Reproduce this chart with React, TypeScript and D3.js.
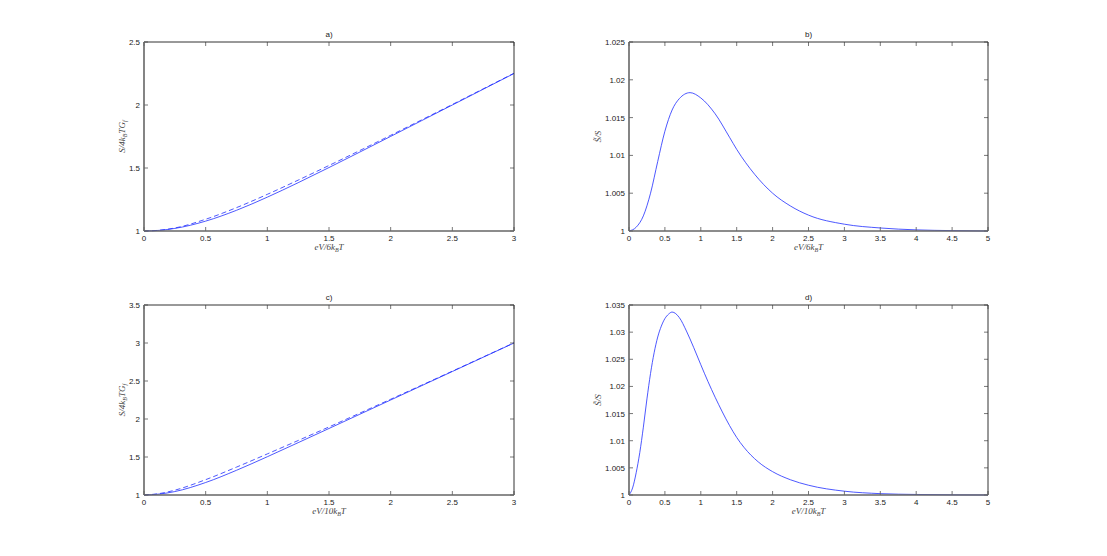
import React from "react";
import * as d3 from "d3";

// ---------- data ----------
const xLeft = [0, 0.125, 0.25, 0.5, 0.75, 1, 1.25, 1.5, 1.75, 2, 2.25, 2.5, 2.75, 3];
const aSolid = [1, 1.0052, 1.0205, 1.0783, 1.1643, 1.2687, 1.3834, 1.5037, 1.6266, 1.7507, 1.8753, 2.0, 2.125, 2.25];
const aDashed = [1, 1.0061, 1.0238, 1.0932, 1.1854, 1.291, 1.4037, 1.52, 1.6388, 1.7595, 1.8815, 2.0042, 2.128, 2.252];
const cSolid = [1, 1.0125, 1.0452, 1.1643, 1.3252, 1.5037, 1.6886, 1.8753, 2.0626, 2.25, 2.4375, 2.625, 2.8125, 3.0];
const cDashed = [1, 1.0189, 1.0635, 1.2018, 1.3668, 1.5408, 1.7171, 1.8957, 2.0775, 2.2601, 2.4443, 2.6295, 2.8156, 3.0021];

const bX = [0, 0.1, 0.2, 0.3, 0.4, 0.5, 0.6, 0.7, 0.85, 1.0, 1.2, 1.4, 1.5, 1.75, 2.0, 2.25, 2.5, 3.0, 3.5, 4.0, 4.5, 5];
const bY = [1, 1.0005, 1.002, 1.005, 1.0092, 1.0132, 1.016, 1.0175, 1.0183, 1.0176, 1.0155, 1.0124, 1.0108, 1.0075, 1.005, 1.0033, 1.0021, 1.0009, 1.0004, 1.00015, 1.00005, 1.0];

const dX = [0, 0.05, 0.1, 0.15, 0.2, 0.25, 0.3, 0.35, 0.4, 0.45, 0.5, 0.55, 0.6, 0.7, 0.8, 0.9, 1.0, 1.1, 1.2, 1.3, 1.4, 1.5, 1.6, 1.8, 2.0, 2.25, 2.5, 3.0, 3.5, 4.0, 4.5, 5.0];
const dY = [1, 1.0013, 1.0041, 1.0078, 1.0125, 1.0177, 1.0224, 1.0262, 1.0291, 1.0311, 1.0325, 1.0333, 1.0337, 1.0327, 1.0302, 1.0272, 1.024, 1.0209, 1.018, 1.0153, 1.0128, 1.0106, 1.0088, 1.0061, 1.0043, 1.0028, 1.0018, 1.0007, 1.00025, 1.0001, 1.00003, 1.0];

const xTicksLeft = [0, 0.5, 1, 1.5, 2, 2.5, 3];
const xTicksRight = [0, 0.5, 1, 1.5, 2, 2.5, 3, 3.5, 4, 4.5, 5];
const yTicksA = [1, 1.5, 2, 2.5];
const yTicksC = [1, 1.5, 2, 2.5, 3, 3.5];
const yTicksB = [1, 1.005, 1.01, 1.015, 1.02, 1.025];
const yTicksD = [1, 1.005, 1.01, 1.015, 1.02, 1.025, 1.03, 1.035];

const BLUE = "#1f2dff";
const SANS = "'Liberation Sans', Arial, Helvetica, sans-serif";
const SERIF = "'Liberation Serif', 'DejaVu Serif', serif";

type Series = { x: number[]; y: number[]; dashed?: boolean };

type PanelProps = {
  left: number;
  right: number;
  top: number;
  bottom: number;
  xDomain: [number, number];
  yDomain: [number, number];
  xTicks: number[];
  yTicks: number[];
  title: string;
  xLabel: React.ReactNode;
  yLabel: React.ReactNode;
  yLabelX: number;
  series: Series[];
};

const fmt = (v: number) => String(+v.toFixed(3));

function Panel(p: PanelProps) {
  const x = d3.scaleLinear().domain(p.xDomain).range([p.left, p.right]);
  const y = d3.scaleLinear().domain(p.yDomain).range([p.bottom, p.top]);
  const tl = 4;
  const line = (s: Series) =>
    d3
      .line<number>()
      .x((_, i) => x(s.x[i]))
      .y((v) => y(v))
      .curve(d3.curveMonotoneX)(s.y) || "";
  const midY = (p.top + p.bottom) / 2;
  return (
    <g>
      <text x={(p.left + p.right) / 2} y={p.top - 5} fontSize={8} fontFamily={SANS} textAnchor="middle" fill="#222">
        {p.title}
      </text>
      {p.series.map((s, i) => (
        <path
          key={i}
          d={line(s)}
          fill="none"
          stroke={BLUE}
          strokeWidth={0.8}
          strokeDasharray={s.dashed ? "5,3" : undefined}
        />
      ))}
      {p.xTicks.map((t) => (
        <g key={"x" + t}>
          <line x1={x(t)} x2={x(t)} y1={p.bottom} y2={p.bottom - tl} stroke="#555" strokeWidth={0.8} />
          <line x1={x(t)} x2={x(t)} y1={p.top} y2={p.top + tl} stroke="#555" strokeWidth={0.8} />
          <text x={x(t)} y={p.bottom + 10} fontSize={8} fontFamily={SANS} textAnchor="middle" fill="#222">
            {fmt(t)}
          </text>
        </g>
      ))}
      {p.yTicks.map((t) => (
        <g key={"y" + t}>
          <line x1={p.left} x2={p.left + tl} y1={y(t)} y2={y(t)} stroke="#555" strokeWidth={0.8} />
          <line x1={p.right} x2={p.right - tl} y1={y(t)} y2={y(t)} stroke="#555" strokeWidth={0.8} />
          <text x={p.left - 4} y={y(t) + 3} fontSize={8} fontFamily={SANS} textAnchor="end" fill="#222">
            {fmt(t)}
          </text>
        </g>
      ))}
      <line x1={p.left} x2={p.right} y1={p.top} y2={p.top} stroke="#333" strokeWidth={1} />
      <line x1={p.right} x2={p.right} y1={p.top} y2={p.bottom} stroke="#333" strokeWidth={1} />
      <line x1={p.left} x2={p.left} y1={p.top} y2={p.bottom} stroke="#666" strokeWidth={1.6} />
      <line x1={p.left} x2={p.right} y1={p.bottom} y2={p.bottom} stroke="#666" strokeWidth={1.6} />
      <text x={(p.left + p.right) / 2} y={p.bottom + 19} fontSize={9} fontFamily={SERIF} fontStyle="italic" textAnchor="middle" fill="#444">
        {p.xLabel}
      </text>
      <text
        transform={`translate(${p.yLabelX},${midY}) rotate(-90)`}
        fontSize={9}
        fontFamily={SERIF}
        fontStyle="italic"
        textAnchor="middle"
        fill="#444"
      >
        {p.yLabel}
      </text>
    </g>
  );
}

const sub = (s: string) => (
  <tspan fontSize={6} dy={2}>
    {s}
  </tspan>
);

export default function App() {
  const xlab = (n: string) => (
    <>
      <tspan>eV/{n}k</tspan>
      {sub("B")}
      <tspan dy={-2}>T</tspan>
    </>
  );
  const ylabS = (
    <>
      <tspan>S/4k</tspan>
      {sub("B")}
      <tspan dy={-2}>TG</tspan>
      {sub("f")}
    </>
  );
  const ylabR = <tspan>S̃/S</tspan>;
  return (
    <svg
      width={1107}
      height={556}
      style={{ position: "absolute", left: 0, top: 0, background: "#fff" }}
    >
      <rect width={1107} height={556} fill="#fff" />
      <Panel
        left={144}
        right={514}
        top={42}
        bottom={231}
        xDomain={[0, 3]}
        yDomain={[1, 2.5]}
        xTicks={xTicksLeft}
        yTicks={yTicksA}
        title="a)"
        xLabel={xlab("6")}
        yLabel={ylabS}
        yLabelX={125}
        series={[
          { x: xLeft, y: aSolid },
          { x: xLeft, y: aDashed, dashed: true },
        ]}
      />
      <Panel
        left={629}
        right={988}
        top={42}
        bottom={231}
        xDomain={[0, 5]}
        yDomain={[1, 1.025]}
        xTicks={xTicksRight}
        yTicks={yTicksB}
        title="b)"
        xLabel={xlab("6")}
        yLabel={ylabR}
        yLabelX={601}
        series={[{ x: bX, y: bY }]}
      />
      <Panel
        left={144}
        right={514}
        top={305}
        bottom={495}
        xDomain={[0, 3]}
        yDomain={[1, 3.5]}
        xTicks={xTicksLeft}
        yTicks={yTicksC}
        title="c)"
        xLabel={xlab("10")}
        yLabel={ylabS}
        yLabelX={125}
        series={[
          { x: xLeft, y: cSolid },
          { x: xLeft, y: cDashed, dashed: true },
        ]}
      />
      <Panel
        left={629}
        right={988}
        top={305}
        bottom={495}
        xDomain={[0, 5]}
        yDomain={[1, 1.035]}
        xTicks={xTicksRight}
        yTicks={yTicksD}
        title="d)"
        xLabel={xlab("10")}
        yLabel={ylabR}
        yLabelX={601}
        series={[{ x: dX, y: dY }]}
      />
    </svg>
  );
}
